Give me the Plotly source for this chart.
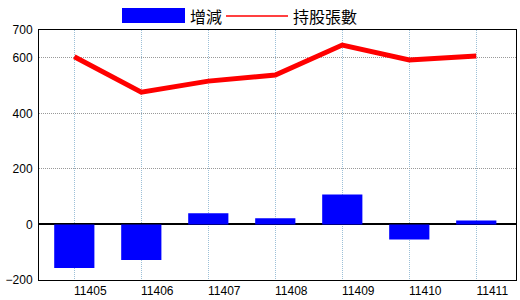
import plotly.graph_objects as go

categories = ["11405", "11406", "11407", "11408", "11409", "11410", "11411"]
change = [-157, -128, 40, 22, 108, -54, 14]
holdings = [604, 476, 516, 538, 646, 592, 606]
y_ticks = [-200, 0, 200, 400, 600, 700]

W, H = 520, 300
ML, MR, MT, MB = 39, 4, 30, 20
PW, PH = W - ML - MR, H - MT - MB

def px(x):
    return (x - ML) / PW

def py(y):
    return (H - MB - y) / PH

idx = list(range(len(categories)))

fig = go.Figure()
fig.add_trace(go.Bar(x=idx, y=change, marker=dict(color="#0000FF", line=dict(width=0)),
                     name="增減", width=0.6))
fig.add_trace(go.Scatter(x=idx, y=holdings, mode="lines", line=dict(color="#FF0000", width=5),
                         name="持股張數"))

font_ticks = dict(family="Liberation Sans, Arial, sans-serif", size=12, color="black")

fig.update_layout(
    width=W, height=H,
    margin=dict(l=ML, r=MR, t=MT, b=MB, autoexpand=False),
    paper_bgcolor="white", plot_bgcolor="white",
    showlegend=False,
    xaxis=dict(range=[-0.527, 6.593], tickvals=idx, ticktext=categories, automargin=False,
               showgrid=True, gridcolor="#9cc0d8", griddash="1px,1px", gridwidth=1,
               showline=True, linecolor="black", linewidth=1, mirror=True,
               ticks="", tickfont=font_ticks, ticklabelshift=16, ticklabelstandoff=0,
               zeroline=False),
    yaxis=dict(range=[-200, 700], tickvals=y_ticks, automargin=False,
               showgrid=True, gridcolor="#999999", griddash="1px,1px", gridwidth=1,
               showline=True, linecolor="black", linewidth=1, mirror=True,
               ticks="", tickfont=font_ticks, ticklabelstandoff=3,
               zeroline=True, zerolinecolor="black", zerolinewidth=2),
    shapes=[
        dict(type="rect", xref="paper", yref="paper", x0=px(122), x1=px(185), y0=py(23), y1=py(8),
             fillcolor="#0000FF", line=dict(width=0)),
        dict(type="line", xref="paper", yref="paper", x0=px(226), x1=px(288), y0=py(16), y1=py(16),
             line=dict(color="#FF0000", width=1.5)),
    ],
    annotations=[
        dict(text="增減", xref="paper", yref="paper", x=px(188), y=py(16), xanchor="left", yanchor="middle",
             showarrow=False, font=dict(family="Noto Sans CJK TC", size=16, color="black")),
        dict(text="持股張數", xref="paper", yref="paper", x=px(291), y=py(16), xanchor="left", yanchor="middle",
             showarrow=False, font=dict(family="Noto Sans CJK TC", size=16, color="black")),
    ],
)

fig.write_html("out.html")
